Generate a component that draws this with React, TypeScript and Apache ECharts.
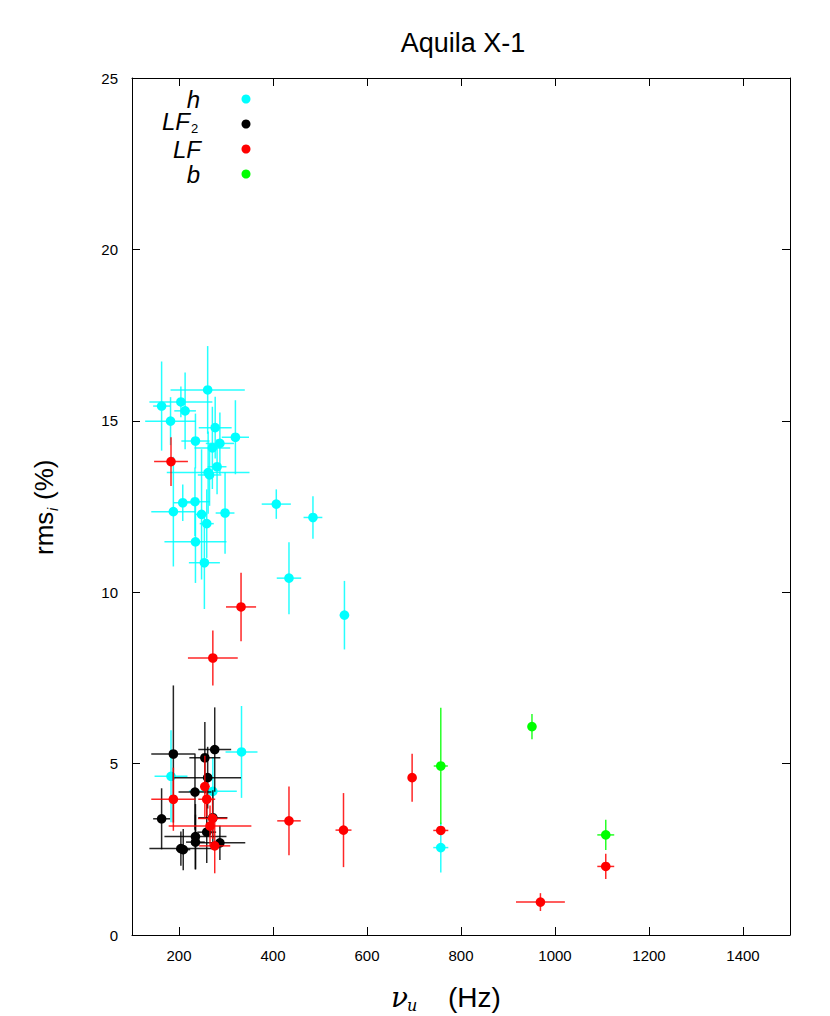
import React, { useEffect, useRef } from "react";
import * as echarts from "echarts";

// h (cyan)
const hX = [163, 204, 261, 213, 182, 277, 235, 320, 287, 271, 281, 262, 265, 407, 208, 234, 188, 485, 248, 298, 259, 235, 254, 434, 552, 333, 183, 272, 757];
const hY = [15.43, 15.55, 15.9, 15.29, 14.99, 14.8, 14.41, 14.52, 14.34, 14.21, 13.66, 13.49, 13.42, 12.57, 12.61, 12.64, 12.35, 12.18, 12.27, 12.31, 12.0, 11.47, 10.86, 10.41, 9.33, 5.34, 4.63, 4.19, 2.55];
const hXErr = [18, 67, 79, 23, 54, 35, 30, 29, 30, 38, 20, 88, 25, 31, 20, 32, 47, 20, 12, 20, 15, 66, 33, 26, 10, 34, 35, 51, 16];
const hYErr = [1.3, 0.45, 1.28, 1.12, 0.7, 0.9, 0.8, 1.08, 0.9, 1.2, 0.8, 1.2, 0.9, 0.43, 0.53, 1.0, 1.6, 0.62, 1.9, 1.19, 1.0, 1.2, 1.35, 1.05, 1.0, 1.34, 1.34, 1.0, 0.73];

// LF2 (black)
const lf2X = [188, 276, 255, 261, 234, 163, 272, 259, 235, 235, 287, 204, 209];
const lf2Y = [5.28, 5.41, 5.17, 4.59, 4.17, 3.39, 3.42, 3.0, 2.87, 2.71, 2.69, 2.52, 2.49];
const lf2XErr = [47, 35, 33, 71, 35, 18, 31, 20, 66, 20, 54, 67, 15];
const lf2YErr = [2.0, 1.23, 1.04, 0.9, 1.1, 0.89, 0.8, 0.9, 0.95, 0.8, 0.5, 0.5, 0.6];

// LF (red)
const lfX = [183, 332, 272, 255, 188, 259, 271.5, 266, 276, 434, 550, 696, 757, 969, 1108];
const lfY = [13.81, 9.57, 8.08, 4.33, 3.96, 3.96, 3.4, 3.18, 2.6, 3.33, 3.06, 4.59, 3.05, 0.96, 2.0];
const lfXErr = [36, 32, 53, 10, 47, 18, 31, 88, 33, 25, 17, 0, 16, 52, 18];
const lfYErr = [0.71, 1.0, 0.8, 0.9, 0.92, 0.5, 0.6, 0.6, 0.8, 1.0, 1.08, 0.7, 0.1, 0.26, 0.37];

// b (green)
const bX = [757, 951, 1108];
const bY = [4.93, 6.08, 2.92];
const bXErr = [15, 3, 18];
const bYErr = [1.7, 0.37, 0.44];

const xTicks = [200, 400, 600, 800, 1000, 1200, 1400];

const groups = [
  { name: "h", color: "#00ffff", x: hX, y: hY, xe: hXErr, ye: hYErr },
  { name: "LF2", color: "#000000", x: lf2X, y: lf2Y, xe: lf2XErr, ye: lf2YErr },
  { name: "LF", color: "#ff0000", x: lfX, y: lfY, xe: lfXErr, ye: lfYErr },
  { name: "b", color: "#00ff00", x: bX, y: bY, xe: bXErr, ye: bYErr },
];

const FONT = "Liberation Sans, Arial, sans-serif";

export default function App() {
  const ref = useRef<HTMLDivElement>(null);
  useEffect(() => {
    document.body.style.margin = "0";
    const chart = echarts.init(ref.current!, null, { renderer: "svg" });
    const axisCommon = {
      axisLine: { show: true, onZero: false, lineStyle: { color: "#000", width: 1 } },
      axisTick: { show: true, inside: true, length: 8, lineStyle: { color: "#000" } },
      splitLine: { show: false },
    };
    const series: any[] = groups.map((g) => ({
      type: "custom",
      name: g.name,
      clip: true,
      data: g.x.map((x, i) => [x, g.y[i], g.xe[i], g.ye[i]]),
      renderItem: (params: any, api: any) => {
        const x = api.value(0);
        const y = api.value(1);
        const xe = api.value(2);
        const ye = api.value(3);
        const c = api.coord([x, y]);
        const l = api.coord([x - xe, y]);
        const r = api.coord([x + xe, y]);
        const t = api.coord([x, y + ye]);
        const b = api.coord([x, Math.max(0, y - ye)]);
        return {
          type: "group",
          children: [
            { type: "line", shape: { x1: l[0], y1: l[1], x2: r[0], y2: r[1] }, style: { stroke: g.color, lineWidth: 1.5, opacity: 0.85 } },
            { type: "line", shape: { x1: t[0], y1: t[1], x2: b[0], y2: b[1] }, style: { stroke: g.color, lineWidth: 1.5, opacity: 0.85 } },
            { type: "circle", shape: { cx: c[0], cy: c[1], r: 4.8 }, style: { fill: g.color } },
          ],
        };
      },
    }));
    const legendY = [99, 121, 149, 174];
    const legendRight = [200, 190, 201, 200];
    const labels = ["h", "LF", "LF", "b"];
    const legendGraphics: any[] = [];
    groups.forEach((g, i) => {
      legendGraphics.push({
        type: "text",
        x: legendRight[i],
        y: legendY[i],
        style: { text: labels[i], fill: "#000", font: `italic 24px ${FONT}`, align: "right", verticalAlign: "middle" },
      });
      legendGraphics.push({ type: "circle", shape: { cx: 246, cy: [99, 124, 149, 174][i], r: 4.5 }, style: { fill: g.color } });
    });
    legendGraphics.push({
      type: "text",
      x: 191,
      y: 128,
      style: { text: "2", fill: "#000", font: `13px ${FONT}`, align: "left", verticalAlign: "middle" },
    });
    chart.setOption({
      animation: false,
      backgroundColor: "#fff",
      title: {
        text: "Aquila X-1",
        left: 458,
        top: 24,
        textAlign: "center",
        textStyle: { fontFamily: FONT, fontSize: 27, fontWeight: "normal", color: "#000" },
      },
      grid: { left: 132, right: 40, top: 78, bottom: 81 },
      xAxis: [
        {
          type: "value", min: 100, max: 1500, position: "bottom", ...axisCommon,
          axisTick: { ...axisCommon.axisTick, customValues: xTicks },
          axisLabel: { customValues: xTicks, color: "#000", fontFamily: FONT, fontSize: 15, margin: 13, formatter: (v: number) => String(v) },
        },
        {
          type: "value", min: 100, max: 1500, position: "top", ...axisCommon,
          axisTick: { ...axisCommon.axisTick, customValues: xTicks },
          axisLabel: { show: false },
        },
      ],
      yAxis: [
        {
          type: "value", min: 0, max: 25, interval: 5, position: "left", ...axisCommon,
          axisLabel: { color: "#000", fontFamily: FONT, fontSize: 15, margin: 14, formatter: (v: number) => String(v) },
        },
        {
          type: "value", min: 0, max: 25, interval: 5, position: "right", ...axisCommon,
          axisLabel: { show: false },
        },
      ],
      series,
      graphic: [
        ...legendGraphics,
        {
          type: "group",
          x: 44,
          y: 505,
          rotation: Math.PI / 2,
          children: [
            { type: "text", x: -50, y: 0, style: { text: "rms", fill: "#000", font: `26px ${FONT}`, align: "left", verticalAlign: "middle" } },
            { type: "text", x: -6, y: 9, style: { text: "i", fill: "#000", font: `italic 14px ${FONT}`, align: "left", verticalAlign: "middle" } },
            { type: "text", x: 5, y: 0, style: { text: "(%)", fill: "#000", font: `26px ${FONT}`, align: "left", verticalAlign: "middle" } },
          ],
        },
        {
          type: "group",
          x: 448,
          y: 997,
          children: [
            { type: "text", x: -57, y: 0, style: { text: "ν", fill: "#000", font: `italic 28px DejaVu Serif, serif`, align: "left", verticalAlign: "middle" } },
            { type: "text", x: -41, y: 8, style: { text: "u", fill: "#000", font: `italic 16px DejaVu Serif, serif`, align: "left", verticalAlign: "middle" } },
            { type: "text", x: 0, y: 0, style: { text: "(Hz)", fill: "#000", font: `28px ${FONT}`, align: "left", verticalAlign: "middle" } },
          ],
        },
      ],
    });
    return () => chart.dispose();
  }, []);
  return <div ref={ref} style={{ width: 830, height: 1016 }} />;
}
